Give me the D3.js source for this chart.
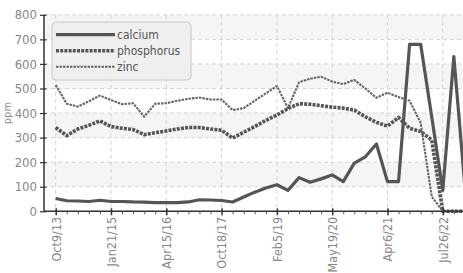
<!DOCTYPE html>
<html>
<head>
<meta charset="utf-8">
<script src="https://cdn.jsdelivr.net/npm/d3@7"></script>
<style>
  html, body { margin: 0; padding: 0; background: #fff; }
  svg { display: block; overflow: hidden; }
  text { font-family: "DejaVu Sans Condensed", "DejaVu Sans", sans-serif; font-stretch: condensed; }
</style>
</head>
<body>
<div id="chart"></div>
<script>
const categories = [
  "Oct9/13","Jan8/14","Apr2/14","Jul15/14","Oct20/14",
  "Jan21/15","Apr22/15","Jul29/15","Oct14/15","Jan13/16",
  "Apr15/16","Jul20/16","Nov2/16","Feb8/17","Jun7/17",
  "Oct18/17","Jan24/18","May2/18","Aug15/18","Nov7/18",
  "Feb5/19","May22/19","Sep4/19","Dec11/19","Feb26/20",
  "May19/20","Jul28/20","Oct6/20","Dec15/20","Feb9/21",
  "Apr6/21","Jul13/21","Oct19/21","Jan25/22","Apr19/22",
  "Jul26/22","Oct11/22","Jan17/23"
];
const tickLabels = ["Oct9/13","Jan21/15","Apr15/16","Oct18/17","Feb5/19","May19/20","Apr6/21","Jul26/22"];
const yTicks = [0,100,200,300,400,500,600,700,800];

const calcium = [52,43,42,40,45,40,40,38,37,35,35,35,38,47,46,44,38,58,78,95,108,85,137,118,132,148,121,196,222,274,121,121,680,680,385,85,630,100];
const phosphorus = [341,308,335,350,368,345,338,333,312,320,327,335,341,341,335,330,298,322,345,370,392,418,438,436,430,424,420,412,385,362,347,382,338,325,290,0,0,0];
const zinc = [514,438,426,448,471,453,436,440,385,438,440,450,458,463,455,455,412,420,450,480,510,420,525,540,548,528,518,535,500,462,483,465,450,360,60,0,0,0];

const seriesNames = ["calcium","phosphorus","zinc"];
const seriesValues = [calcium, phosphorus, zinc];

const W = 463, H = 273;
const plotLeft = 44, plotTop = 14.8, plotBottom = 211.3, plotRight = 470;

const svg = d3.select("#chart").append("svg").attr("width", W).attr("height", H);

const x = d3.scalePoint().domain(categories).range([55.7, 464.9]);
const y = d3.scaleLinear().domain([0, 800]).range([plotBottom, plotTop]);

// alternating bands
const bands = d3.range(100, 800, 200);
svg.append("g").selectAll("rect").data(bands).join("rect")
  .attr("x", plotLeft).attr("width", plotRight - plotLeft)
  .attr("y", d => y(d + 100)).attr("height", d => y(d) - y(d + 100))
  .attr("fill", "#f5f5f5");

// horizontal grid
svg.append("g").selectAll("line").data(yTicks.filter(d => d > 0)).join("line")
  .attr("x1", plotLeft).attr("x2", plotRight)
  .attr("y1", d => y(d)).attr("y2", d => y(d))
  .attr("stroke", "#d4d4d4").attr("stroke-width", 1).attr("stroke-dasharray", "4,3");

// vertical grid at labelled ticks
svg.append("g").selectAll("line").data(tickLabels).join("line")
  .attr("x1", d => x(d)).attr("x2", d => x(d))
  .attr("y1", plotTop).attr("y2", plotBottom)
  .attr("stroke", "#d4d4d4").attr("stroke-width", 1).attr("stroke-dasharray", "4,3");

// lines
const styles = [
  { color: "#555", width: 3.2, dash: null },
  { color: "#555", width: 3.6, dash: "3,1.2" },
  { color: "#666", width: 2.1, dash: "2.5,1" }
];
const lineGen = d3.line().x((d, i) => x(categories[i])).y(d => y(d));
seriesValues.forEach((vals, k) => {
  svg.append("path").datum(vals)
    .attr("d", lineGen)
    .attr("fill", "none")
    .attr("stroke", styles[k].color)
    .attr("stroke-width", styles[k].width)
    .attr("stroke-dasharray", styles[k].dash)
    .attr("stroke-linejoin", "round");
});

// y axis
const yAxis = svg.append("g").attr("transform", `translate(${plotLeft},0)`)
  .call(d3.axisLeft(y).tickValues(yTicks).tickSize(4).tickPadding(3));
yAxis.select(".domain").attr("stroke", "#333").attr("stroke-width", 1.5).attr("d", `M0,${plotTop}V${plotBottom}`);
yAxis.selectAll(".tick line").attr("stroke", "#333").attr("stroke-width", 1.2).attr("x2", 2.5).attr("x1", -4);
yAxis.selectAll(".tick text").attr("fill", "#888").style("font-size", "13px");

// x axis
const xAxis = svg.append("g").attr("transform", `translate(0,${plotBottom})`)
  .call(d3.axisBottom(x).tickSize(3).tickFormat(""));
xAxis.select(".domain").attr("stroke", "#333").attr("stroke-width", 1.5).attr("d", `M${plotLeft},0H${plotRight}`);
xAxis.selectAll(".tick line").attr("stroke", "#555").attr("stroke-width", 1);
xAxis.selectAll(".tick").filter(d => tickLabels.includes(d)).select("line")
  .attr("y1", -3).attr("y2", 4).attr("stroke", "#333").attr("stroke-width", 1.5);
xAxis.selectAll(".tick").filter(d => tickLabels.includes(d)).append("text")
  .attr("fill", "#888")
  .style("font-size", "12.5px")
  .attr("text-anchor", "end")
  .attr("transform", "translate(4.3,5.5) rotate(-90)")
  .text(d => d);

// y title
svg.append("text").attr("transform", `translate(11,${(plotTop + plotBottom) / 2}) rotate(-90)`)
  .attr("text-anchor", "middle").attr("fill", "#888").style("font-size", "11px").text("ppm");

// legend
const lg = svg.append("g");
lg.append("rect").attr("x", 52).attr("y", 22).attr("width", 139).attr("height", 58).attr("rx", 4)
  .attr("fill", "#eeeeee").attr("fill-opacity", 0.9).attr("stroke", "#c8c8c8").attr("stroke-width", 1);
seriesNames.forEach((name, k) => {
  const yy = 34.7 + k * 16;
  lg.append("line").attr("x1", 56).attr("x2", 115).attr("y1", yy).attr("y2", yy)
    .attr("stroke", styles[k].color).attr("stroke-width", styles[k].width)
    .attr("stroke-dasharray", styles[k].dash);
  lg.append("text").attr("x", 117).attr("y", yy + 4).attr("fill", "#555")
    .style("font-size", "12px").text(name);
});
</script>
</body>
</html>
